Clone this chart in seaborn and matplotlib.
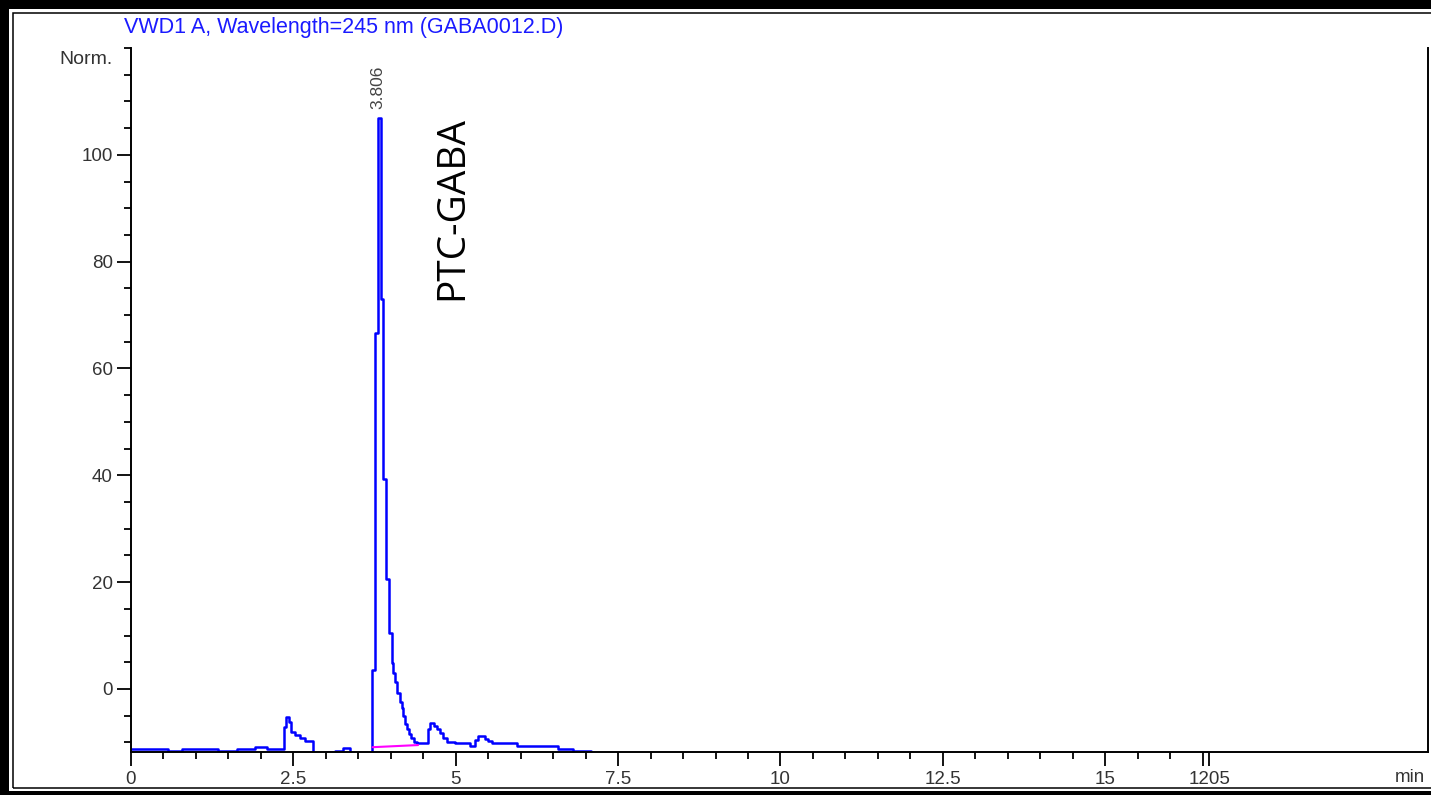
import matplotlib

matplotlib.use("Agg")

import matplotlib.pyplot as plt
import seaborn as sns
from matplotlib.patches import Rectangle
from matplotlib.ticker import FixedLocator

# ==========================================
# Data
# ==========================================

time_min = [
    0.00, 0.57, 0.79, 1.34, 1.63, 1.91, 2.09, 2.36, 2.39, 2.44,
    2.47, 2.53, 2.60, 2.68, 2.80, 3.02, 3.14, 3.27, 3.37, 3.71,
    3.75, 3.80, 3.85, 3.88, 3.93, 3.97, 4.02, 4.04, 4.07, 4.10,
    4.14, 4.17, 4.19, 4.22, 4.25, 4.28, 4.31, 4.35, 4.40, 4.57,
    4.60, 4.66, 4.71, 4.76, 4.81, 4.87, 4.99, 5.22, 5.30, 5.35,
    5.45, 5.50, 5.56, 5.94, 6.58, 6.81, 7.08,
]
signal = [
    -11.2, -11.7, -11.2, -11.7, -11.2, -10.8, -11.2, -7.1, -5.3, -6.2,
    -8.0, -8.6, -9.2, -9.8, -14.0, -11.75, -11.6, -11.1, -14.0, 3.6,
    66.7, 106.9, 73.0, 39.3, 20.6, 10.5, 4.9, 3.0, 1.3, -0.7,
    -2.5, -3.5, -5.0, -6.5, -7.5, -8.5, -9.2, -9.9, -10.2, -7.5,
    -6.4, -6.9, -7.5, -8.2, -9.2, -9.9, -10.1, -10.7, -9.6, -8.8,
    -9.3, -9.8, -10.1, -10.7, -11.2, -11.7, -11.7,
]

baseline_time = [3.72, 4.42]
baseline_signal = [-10.9, -10.5]

peak_time = 3.806
peak_label = "3.806"
compound = "PTC-GABA"
title = "VWD1 A, Wavelength=245 nm (GABA0012.D)"

x_major = [0, 2.5, 5, 7.5, 10, 12.5, 15, 16.5, 16.6]
x_labels = ["0", "2.5", "5", "7.5", "10", "12.5", "15", "", "1205"]
y_major = [0, 20, 40, 60, 80, 100]
y_minor = [-10, -5, 5, 10, 15, 25, 30, 35, 45, 50, 55, 65, 70, 75,
           85, 90, 95, 105, 110, 115, 120]


def main():

    sns.set_style("ticks")
    plt.rcParams["font.family"] = ["Liberation Sans", "DejaVu Sans"]

    W, H = 1431, 795
    fig = plt.figure(figsize=(W / 100, H / 100), dpi=100)
    fig.patch.set_facecolor("black")

    # white page and thin frame, kept behind the axes
    fig.patches.append(Rectangle(
        (9 / W, 4 / H), 1, (786 - 4) / H,
        transform=fig.transFigure, facecolor="white", edgecolor="none",
        zorder=-3,
    ))
    fig.patches.append(Rectangle(
        (13 / W, 7 / H), 1, (782 - 7) / H,
        transform=fig.transFigure, facecolor="none", edgecolor="black",
        linewidth=1.1, zorder=-2,
    ))

    ax = fig.add_axes([131 / W, 43 / H, (1428 - 131) / W, (752 - 48) / H])
    ax.set_facecolor("none")

    sns.lineplot(
        x=time_min, y=signal, ax=ax, color="#0000ff", linewidth=1.8,
        drawstyle="steps-post", estimator=None, sort=False,
    )
    sns.lineplot(
        x=baseline_time, y=baseline_signal, ax=ax, color="#ff00ff",
        linewidth=1.5, estimator=None, sort=False,
    )

    ax.set_xlim(0, 19.97)
    ax.set_ylim(-11.8, 120)

    ax.spines["top"].set_visible(False)
    for side in ["left", "bottom", "right"]:
        ax.spines[side].set_linewidth(1.4)
        ax.spines[side].set_color("black")

    ax.set_xticks(x_major)
    ax.set_xticklabels(x_labels)
    ax.xaxis.set_minor_locator(FixedLocator(
        [i * 0.5 for i in range(34)]
    ))
    ax.set_yticks(y_major)
    ax.yaxis.set_minor_locator(FixedLocator(y_minor))

    ax.tick_params(axis="both", which="major", length=10, width=1.3,
                   labelsize=13.5, labelcolor="#333333", color="black")
    ax.tick_params(axis="both", which="minor", length=5, width=1.3,
                   color="black")
    ax.tick_params(axis="x", which="major", pad=3.5)
    ax.tick_params(axis="y", which="major", pad=3)
    ax.set_xlabel("")
    ax.set_ylabel("")

    # texts
    fig.text(344 / W, 1 - 27 / H, title, color="#1a1aff", fontsize=15.5,
             ha="center", va="center")
    fig.text(113 / W, 1 - 60 / H, "Norm.", color="#333333", fontsize=14,
             ha="right", va="center")
    fig.text(1395 / W, 1 - 778 / H, "min", color="#333333", fontsize=13.5,
             ha="left", va="center")

    ax.text(peak_time, 108.5, peak_label, rotation=90, fontsize=12.5,
            color="#444444", ha="center", va="bottom")
    ax.text(4.95, 90, compound, rotation=90, fontsize=28,
            family=["Open Sans", "DejaVu Sans"], color="black",
            ha="center", va="center")

    fig.savefig("out.png", dpi=100, facecolor=fig.get_facecolor())
    plt.close(fig)


if __name__ == "__main__":
    main()
